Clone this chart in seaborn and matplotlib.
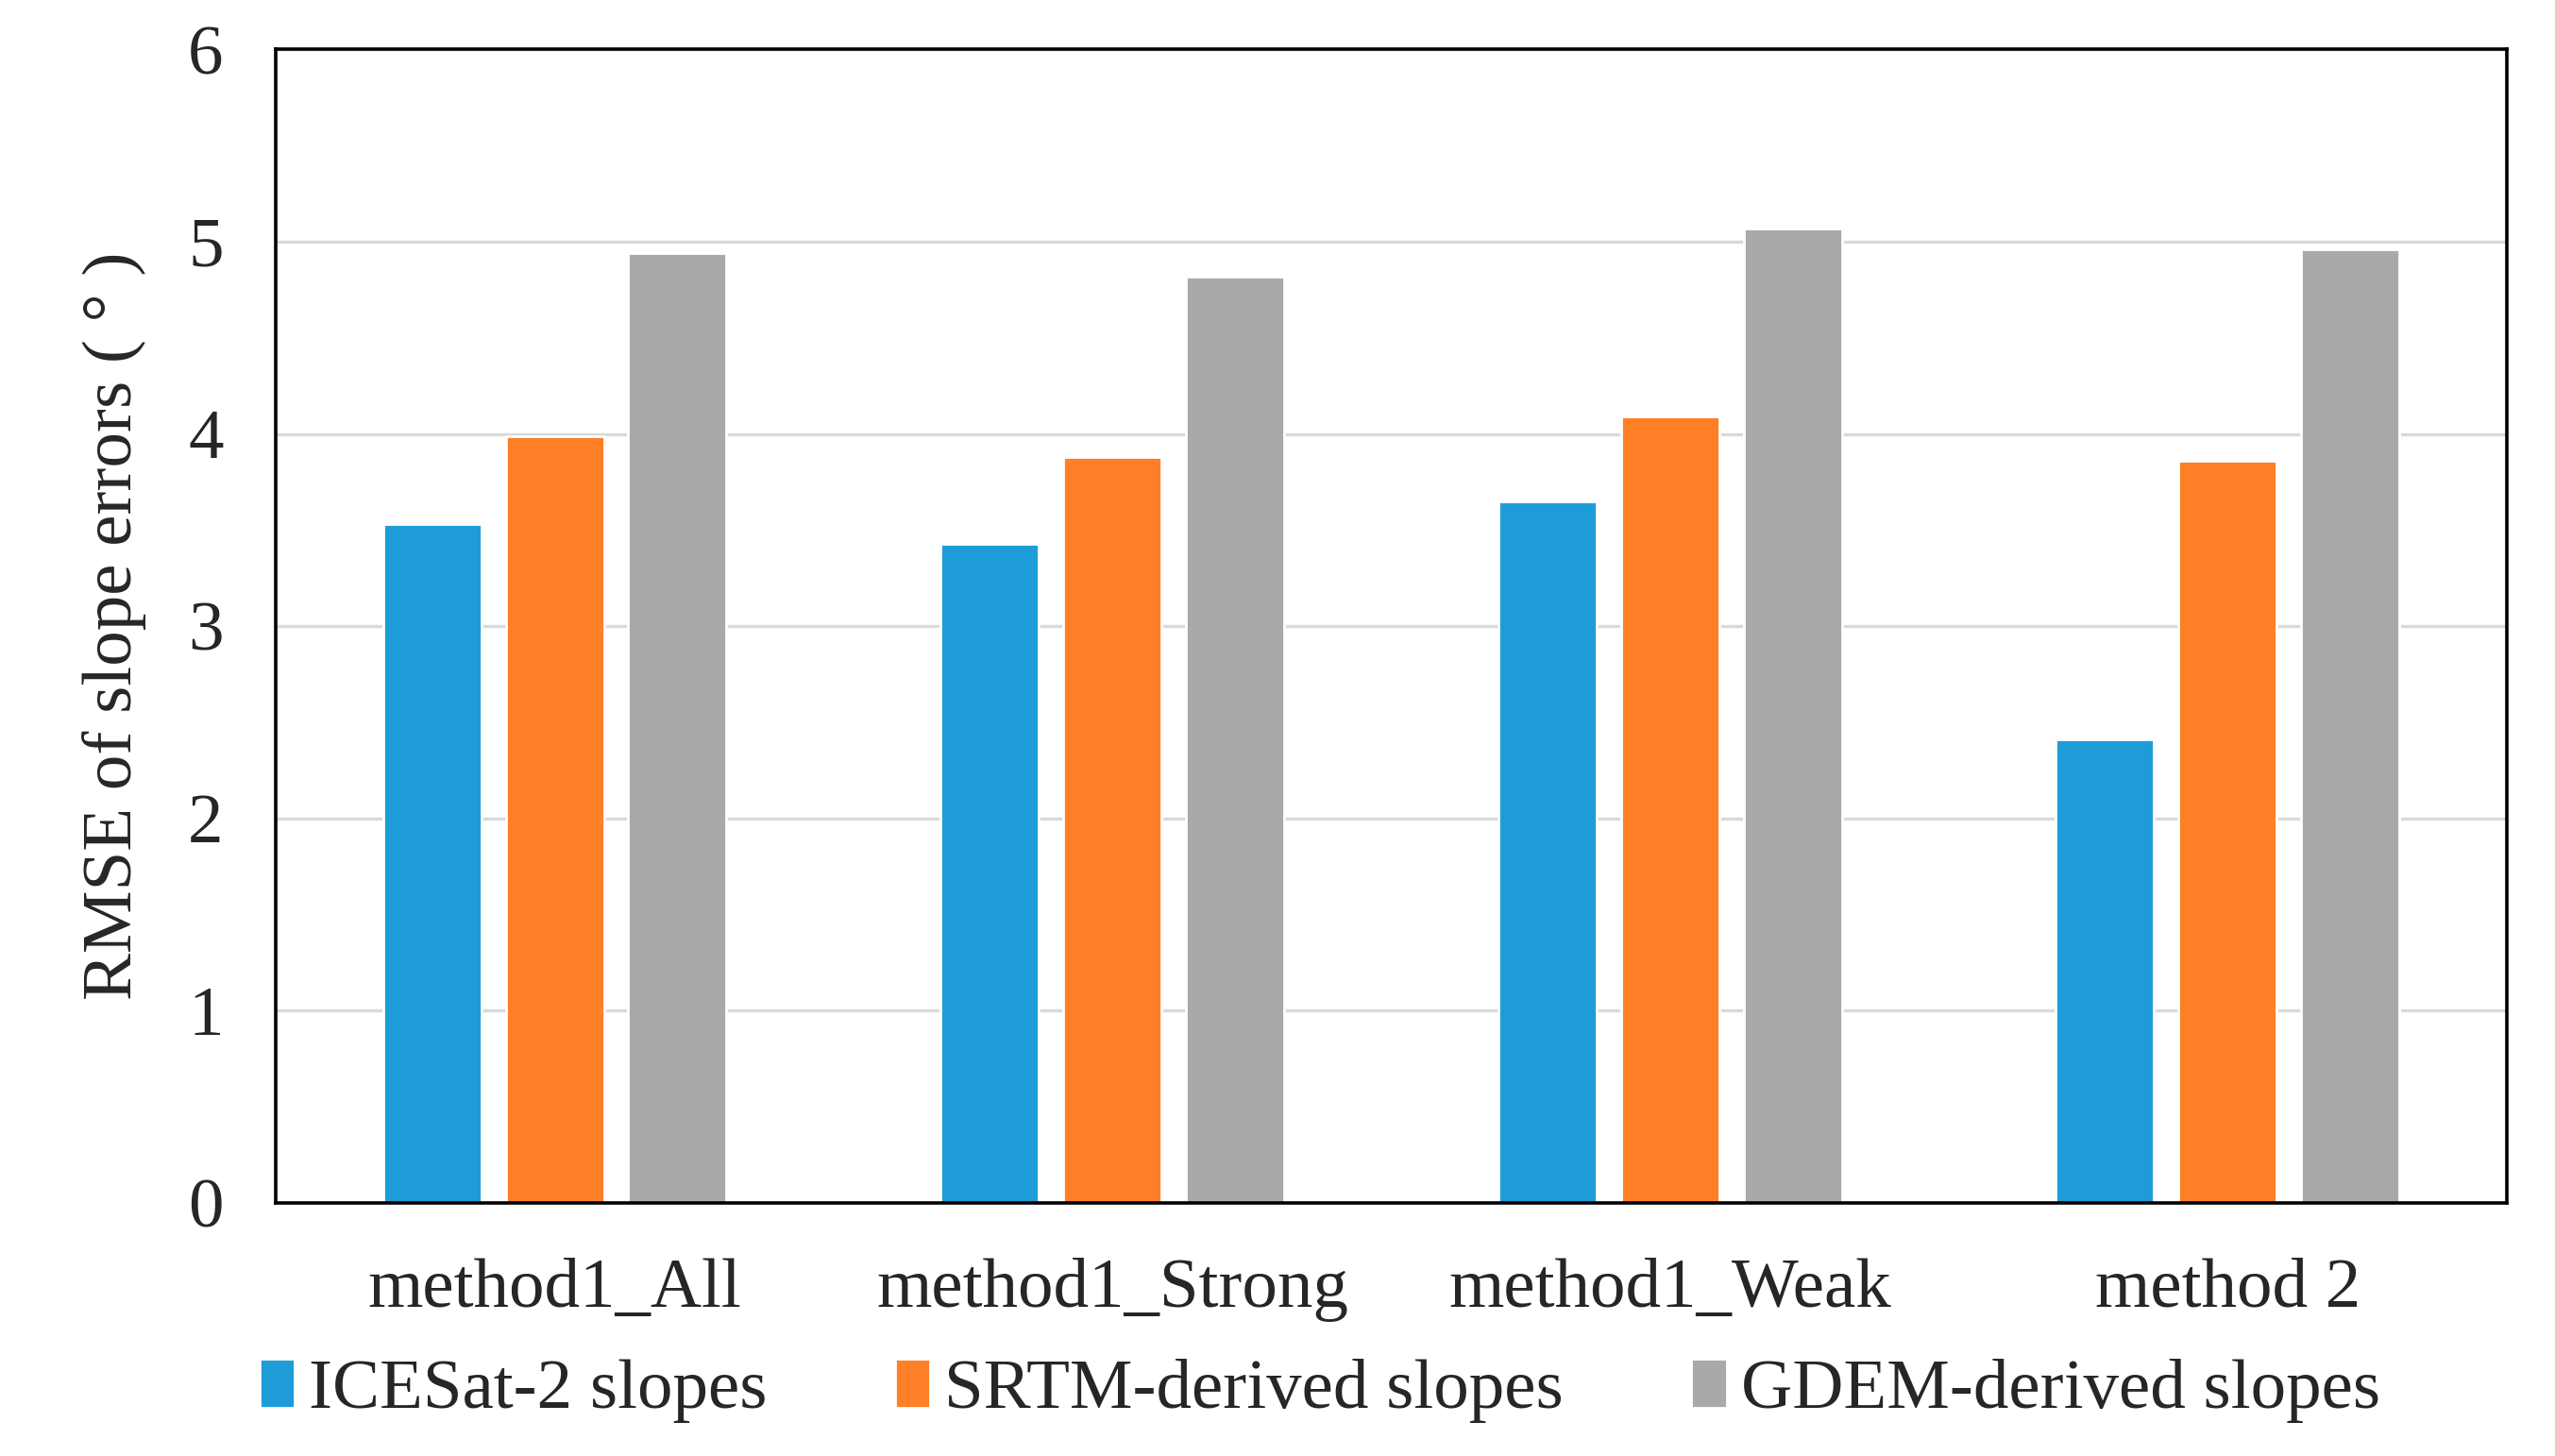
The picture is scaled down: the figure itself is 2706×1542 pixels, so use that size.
import numpy as np
import pandas as pd
import matplotlib
matplotlib.use("Agg")
import matplotlib.pyplot as plt
import seaborn as sns
from matplotlib.ticker import FixedLocator

# -----------------------------------------------------
# Data
# -----------------------------------------------------
methods = ["method1_All", "method1_Strong", "method1_Weak", "method 2"]
series_names = ["ICESat-2 slopes", "SRTM-derived slopes", "GDEM-derived slopes"]
icesat = [3.53, 3.43, 3.65, 2.41]
srtm = [3.99, 3.88, 4.09, 3.86]
gdem = [4.94, 4.82, 5.07, 4.96]
colors = ["#1E9CD8", "#FF7F27", "#A9A9A9"]

df = pd.DataFrame({
    "method": methods * 3,
    "source": np.repeat(series_names, len(methods)),
    "rmse": icesat + srtm + gdem,
})

# -----------------------------------------------------
# Plot
# -----------------------------------------------------
sns.set_style("white")
plt.rcParams["font.family"] = ["Liberation Serif", "DejaVu Serif"]

fig = plt.figure(figsize=(13.53, 7.71), dpi=200)
ax = fig.add_axes([0.108, 0.174, 0.873, 0.792])

sns.barplot(
    data=df, x="method", y="rmse", hue="source",
    order=methods, hue_order=series_names,
    palette=colors, width=0.66, gap=0.2,
    saturation=1, errorbar=None, ax=ax,
)

ax.set_ylim(0, 6)
ax.set_xlim(-0.5, len(methods) - 0.5)
ax.set_yticks(range(0, 7))
ax.yaxis.grid(True, color="#D9D9D9", linewidth=1.2)
ax.set_axisbelow(True)

ax.tick_params(axis="y", direction="in", length=6, width=1.2,
               labelsize=27, pad=20)
ax.tick_params(axis="x", which="major", length=0, labelsize=27, pad=21)
ax.xaxis.set_minor_locator(FixedLocator([0.5, 1.5, 2.5]))
ax.tick_params(axis="x", which="minor", direction="in", length=6, width=1.2)

for side in ax.spines.values():
    side.set_color("black")
    side.set_linewidth(1.3)

ax.set_xlabel("")
ax.set_ylabel("RMSE of slope errors ( ° )", fontsize=27, labelpad=16)

ax.legend(
    loc="center", bbox_to_anchor=(0.468, -0.163), ncol=3,
    frameon=False, fontsize=27, handlelength=0.5, handleheight=0.7,
    handletextpad=0.2, columnspacing=1.8,
)

fig.savefig("out.png", dpi=200)
